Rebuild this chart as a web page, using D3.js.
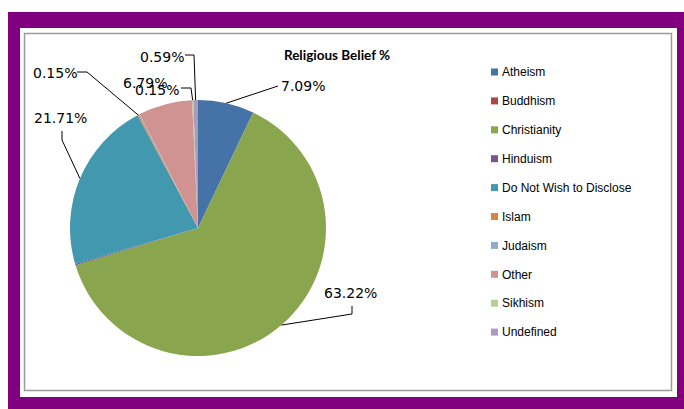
<!DOCTYPE html>
<html><head><meta charset="utf-8">
<script src="https://cdn.jsdelivr.net/npm/d3@7"></script>
<style>body{margin:0;background:#fff}svg{display:block}</style>
</head><body>
<script>
const categories = ["Atheism","Buddhism","Christianity","Hinduism","Do Not Wish to Disclose","Islam","Judaism","Other","Sikhism","Undefined"];
const values = [7.09, 0, 63.22, 0.15, 21.71, 0.15, 0.15, 6.79, 0.15, 0.59];
const colors = ["#4572A7","#AA4643","#89A54E","#71588F","#4198AF","#DB843D","#93A9CF","#D19392","#B9CD96","#A99BBD"];
const shownLabels = [true, false, true, false, true, true, false, true, true, true];
const title = "Religious Belief %";

// label layout (text anchor start x, center y, leader elbow points)
const labelLayout = {
  "Atheism": {x:281, y:86, pts:[[278,86]]},
  "Christianity": {x:324, y:293, pts:[[352,314],[352,306]]},
  "Do Not Wish to Disclose": {x:34, y:118, pts:[[62,140],[62,131]]},
  "Islam": {x:33, y:73, pts:[[87,72],[77,72]]},
  "Other": {x:123, y:83, pts:null},
  "Sikhism": {x:135, y:90, pts:[[191,88],[181,88]]},
  "Undefined": {x:140, y:57, pts:[[194,55],[185,55]]}
};

const W = 684, H = 409;
const svg = d3.select("body").append("svg").attr("width", W).attr("height", H);

svg.append("rect").attr("x",8).attr("y",12).attr("width",W-8).attr("height",H-12).attr("fill","#800080");
svg.append("rect").attr("x",20).attr("y",28).attr("width",657).attr("height",369).attr("fill","#fff");
svg.append("rect").attr("x",24.5).attr("y",33.5).attr("width",647).attr("height",357)
  .attr("fill","#fff").attr("stroke","#9a9a9a").attr("stroke-width",1.5);

svg.append("text").attr("x",337).attr("y",60).attr("text-anchor","middle")
  .attr("font-family","Lato, 'Open Sans', sans-serif").attr("font-weight","bold")
  .attr("font-size",13.5).attr("fill","#000").text(title);

const cx = 198, cy = 228, r = 128;
const data = categories.map((c,i)=>({cat:c, value:values[i], color:colors[i], show:shownLabels[i]}));
const pie = d3.pie().value(d=>d.value).sort(null).startAngle(0).endAngle(2*Math.PI);
const arcs = pie(data);
const arc = d3.arc().innerRadius(0).outerRadius(r);

const g = svg.append("g").attr("transform",`translate(${cx},${cy})`);
g.selectAll("path").data(arcs).join("path")
  .attr("d",arc).attr("fill",d=>d.data.color);

const fmt = d3.format(".2f");
const lab = svg.append("g");
arcs.forEach(a=>{
  if(!a.data.show) return;
  const L = labelLayout[a.data.cat];
  const mid = (a.startAngle + a.endAngle)/2;
  const ex = cx + r*Math.sin(mid), ey = cy - r*Math.cos(mid);
  if (L.pts) {
    const pts = [[ex,ey]].concat(L.pts);
    lab.append("path").attr("d", d3.line()(pts)).attr("fill","none")
      .attr("stroke","#000").attr("stroke-width",1);
  }
  lab.append("text").attr("x",L.x).attr("y",L.y).attr("dy","0.36em")
    .attr("font-family","'DejaVu Sans', Verdana, sans-serif").attr("font-size",14)
    .attr("fill","#000").text(fmt(a.data.value)+"%");
});

const leg = svg.append("g");
data.forEach((d,i)=>{
  const y = 72 + i*28.9;
  leg.append("rect").attr("x",491).attr("y",y-3.5).attr("width",7).attr("height",7).attr("fill",d.color);
  leg.append("text").attr("x",502).attr("y",y).attr("dy","0.35em")
    .attr("font-family","'Liberation Sans', Arial, sans-serif").attr("font-size",12)
    .attr("fill","#000").text(d.cat);
});
</script>
</body></html>
